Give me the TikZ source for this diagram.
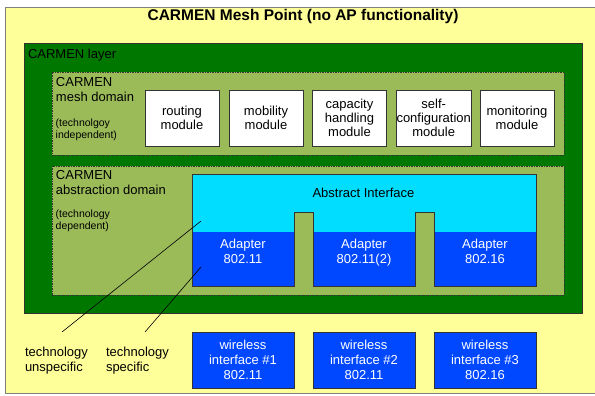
\documentclass[tikz,border=0pt]{standalone}
\usepackage{fontspec}
\setmainfont{Liberation Sans}
\definecolor{pointyellow}{HTML}{FFFF99}
\definecolor{layergreen}{HTML}{007800}
\definecolor{domgreen}{HTML}{9BBB59}
\definecolor{ifcyan}{HTML}{00DDFF}
\definecolor{adblue}{HTML}{0048FF}

\begin{document}
\begin{tikzpicture}[x=1pt,y=-1pt,every node/.style={inner sep=0pt,outer sep=0pt},
	frame/.style={draw=black!80,line width=0.7pt,anchor=north west},
	domainbox/.style={frame,fill=domgreen,dash pattern=on 1.5pt off 1pt},
	label/.style={anchor=north west,align=left,font=\fontsize{13}{14.5}\selectfont},
	note/.style={anchor=north west,align=left,font=\fontsize{10.5}{11.5}\selectfont},
	module/.style={frame,fill=white,minimum width=74pt,minimum height=56pt,align=center,font=\fontsize{13}{14.3}\selectfont},
	adapter/.style={fill=adblue,anchor=north west,minimum width=102pt,minimum height=54pt},
	adaptertext/.style={anchor=north,align=center,text=white,font=\fontsize{13}{15}\selectfont},
	wireless/.style={frame,fill=adblue,minimum width=102pt,minimum height=56pt,align=center,text=white,font=\fontsize{13}{14.8}\selectfont},
	pointer/.style={draw=black,line width=0.6pt}]
	\useasboundingbox (0,0) rectangle (595,396);
	\node[frame,draw=black!50,fill=pointyellow,minimum width=593pt,minimum height=386pt] (point) at (5,7) {};
	\node[font=\fontsize{15.5}{17}\selectfont\bfseries] (title) at (303,16.5) {CARMEN Mesh Point (no AP functionality)};
	\node[frame,fill=layergreen,minimum width=558pt,minimum height=270pt] (layer) at (24,43) {};
	\node[label] (layerlabel) at (28,49.5) {CARMEN layer};
	\node[domainbox,minimum width=512pt,minimum height=83pt] (meshdom) at (52,72) {};
	\node[label] (meshlabel) at (56,77.7) {CARMEN\\mesh domain};
	\node[note] (meshnote) at (55.7,119) {(technolgoy\\independent)};
	\node[module] (routing) at (145,90) {routing\\module};
	\node[module] (mobility) at (229,90) {mobility\\module};
	\node[module] (capacity) at (312.5,90) {capacity\\handling\\module};
	\node[module] (selfconf) at (396.5,90) {self-\\configuration\\module};
	\node[module] (monitoring) at (480,90) {monitoring\\module};
	\node[domainbox,minimum width=512pt,minimum height=129pt] (absdom) at (52,166) {};
	\node[label] (abslabel) at (56,170.7) {CARMEN\\abstraction domain};
	\node[note] (absnote) at (55.7,210.3) {(technology\\dependent)};
	\fill[ifcyan] (192,174) -- (536,174) -- (536,232) -- (434,232) -- (434,212) -- (415,212) -- (415,232)
		-- (313,232) -- (313,212) -- (294,212) -- (294,232) -- (192,232) -- cycle;
	\node[font=\fontsize{13}{15}\selectfont] (abstract) at (363.5,193) {Abstract Interface};
	\node[adapter] (ad1) at (192,232) {};
	\node[adapter] (ad2) at (313,232) {};
	\node[adapter] (ad3) at (434,232) {};
	\draw[black!80,line width=0.7pt] (192,174) -- (536,174) -- (ad3.south east) -- (ad3.south west) -- (434,212) -- (415,212)
		-- (ad2.south east) -- (ad2.south west) -- (313,212) -- (294,212) -- (ad1.south east) -- (ad1.south west) -- cycle;
	\node[adaptertext] (ad1text) at ([yshift=-7pt]ad1.north) {Adapter\\802.11};
	\node[adaptertext] (ad2text) at ([yshift=-7pt]ad2.north) {Adapter\\802.11(2)};
	\node[adaptertext] (ad3text) at ([yshift=-7pt]ad3.north) {Adapter\\802.16};
	\node[wireless] (wl1) at (192,332) {wireless\\interface \#1\\802.11};
	\node[wireless] (wl2) at (313,332) {wireless\\interface \#2\\802.11};
	\node[wireless] (wl3) at (434,332) {wireless\\interface \#3\\802.16};
	\node[label] (unspeclabel) at (25,347.5) {technology\\unspecific};
	\node[label] (speclabel) at (106,347.5) {technology\\specific};
	\coordinate (unspecfoot) at (62,332);
	\coordinate (unspectip) at (201,221);
	\coordinate (specfoot) at (145,332);
	\coordinate (spectip) at (201,267);
	\draw[pointer] (unspecfoot) -- (unspectip);
	\draw[pointer] (specfoot) -- (spectip);
\end{tikzpicture}
\end{document}
